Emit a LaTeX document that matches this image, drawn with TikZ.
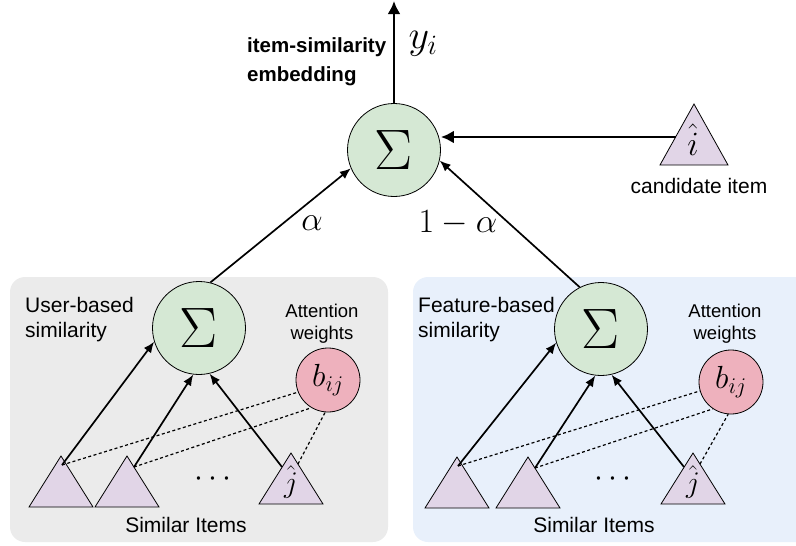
\RequirePackage{fix-cm}
\documentclass[tikz,border=0pt]{standalone}
\usepackage[no-math]{fontspec}
\setmainfont{Liberation Sans}
\usetikzlibrary{arrows.meta}

\definecolor{sumgreen}{HTML}{D5E8D4}
\definecolor{attnpink}{HTML}{EEB1BD}
\definecolor{itempurple}{HTML}{E1D5E7}
\definecolor{usergray}{HTML}{EBEBEB}
\definecolor{featblue}{HTML}{E8F0FB}

\tikzset{
  sumnode/.style={circle, draw, line width=0.8pt, fill=sumgreen,
    minimum size=93pt, inner sep=0pt, font=\fontsize{57}{60}\selectfont},
  attnnode/.style={circle, draw, line width=0.8pt, fill=attnpink,
    minimum size=64pt, inner sep=0pt, font=\fontsize{32}{34}\selectfont},
  trifill/.style={draw, line width=0.8pt, fill=itempurple, line join=miter},
  label/.style={inner sep=0pt, font=\fontsize{21}{25}\selectfont},
  smalllabel/.style={inner sep=0pt, align=center, font=\fontsize{18.5}{22}\selectfont},
  mathlabel/.style={inner sep=0pt, font=\fontsize{34}{36}\selectfont},
  thinarrow/.style={line width=1.7pt, -{Latex[length=11pt,width=9pt]}},
  thickarrow/.style={line width=2.6pt, -{Latex[length=13pt,width=13pt]}},
  attnlink/.style={line width=1.2pt, dash pattern=on 3pt off 2.5pt},
  itemtri/.pic={
    \draw[trifill] (0,0) -- (-32,51) -- (32,51) -- cycle;
    \coordinate (-c) at (1,9);
    \coordinate (-l) at (-9,14);
    \coordinate (-r) at (7,11);
  }
}

\begin{document}
\begin{tikzpicture}[x=1pt, y=-1pt]
\useasboundingbox (0,0) rectangle (796,546);
\clip (0,0) rectangle (796,546);

% group panels
\fill[usergray, rounded corners=15pt] (10,277) rectangle (388,542);
\fill[featblue, rounded corners=15pt] (413,277) rectangle (820,542);

% top aggregation
\node[sumnode] (tsum) at (394,150) {$\Sigma$};
\coordinate (yout) at (394,1);
\draw[thickarrow] (tsum.north) -- (yout);
\node[mathlabel, font=\fontsize{40}{42}\selectfont] (ylbl) at (423,44) {$y_i$};
\node[inner sep=0pt, anchor=west, align=left,
      font=\fontsize{20.5}{29}\selectfont\bfseries] (embtxt) at (247,62)
      {item-similarity\\embedding};

% candidate item
\draw[trifill] (694,104) -- (660,165) -- (728,165) -- cycle;
\coordinate (cand) at (676,137);
\node[mathlabel] (candi) at (693,140) {$\hat{i}$};
\node[label] (candtxt) at (699,186) {candidate item};
\draw[thickarrow] (cand) -- (tsum.east |- cand);

% user-based branch
\node[sumnode] (lsum) at (199,328) {$\Sigma$};
\node[attnnode] (lb) at (328,380) {$b_{ij}$};
\node[label, anchor=west, align=left] (ltxt) at (25,320) {User-based\\similarity};
\node[smalllabel] (latt) at (322,324) {Attention\\weights};
\pic (lt1) at (61,456) {itemtri};
\pic (lt2) at (127,456) {itemtri};
\pic (lt3) at (291,453) {itemtri};
\node[mathlabel, font=\fontsize{30}{32}\selectfont] (lj) at (291,482) {$\hat{j}$};
\node[mathlabel, font=\fontsize{32}{34}\selectfont] (ldots) at (213,479) {$\cdots$};
\node[label] (lsim) at (186,525) {Similar Items};
\draw[thinarrow] (lt1-c) -- (lsum.197);
\draw[thinarrow] (lt2-r) -- (lsum.263);
\draw[thinarrow] (lt3-l) -- (lsum.283);
\draw[attnlink] (lt1-c) -- (lb.202);
\draw[attnlink] (lt2-r) -- (lb.239);
\draw[attnlink] (lt3-r) -- (lb.265);

% feature-based branch
\node[sumnode] (rsum) at (601,329) {$\Sigma$};
\node[attnnode] (rb) at (731,382) {$b_{ij}$};
\node[label, anchor=west, align=left] (rtxt) at (418,320) {Feature-based\\similarity};
\node[smalllabel] (ratt) at (725,324) {Attention\\weights};
\pic (rt1) at (457,457) {itemtri};
\pic (rt2) at (528,457) {itemtri};
\pic (rt3) at (693,453) {itemtri};
\node[mathlabel, font=\fontsize{30}{32}\selectfont] (rj) at (693,482) {$\hat{j}$};
\node[mathlabel, font=\fontsize{32}{34}\selectfont] (rdots) at (613,479) {$\cdots$};
\node[label] (rsim) at (594,525) {Similar Items};
\draw[thinarrow] (rt1-c) -- (rsum.197);
\draw[thinarrow] (rt2-r) -- (rsum.263);
\draw[thinarrow] (rt3-l) -- (rsum.283);
\draw[attnlink] (rt1-c) -- (rb.196);
\draw[attnlink] (rt2-r) -- (rb.236);
\draw[attnlink] (rt3-r) -- (rb.265);

% weighted combination
\draw[thinarrow] (lsum.76) -- (tsum.203);
\draw[thinarrow] (rsum.117) -- (tsum.347);
\node[mathlabel] (alab) at (312,223) {$\alpha$};
\node[mathlabel] (blab) at (458,223) {$1-\alpha$};
\end{tikzpicture}
\end{document}
